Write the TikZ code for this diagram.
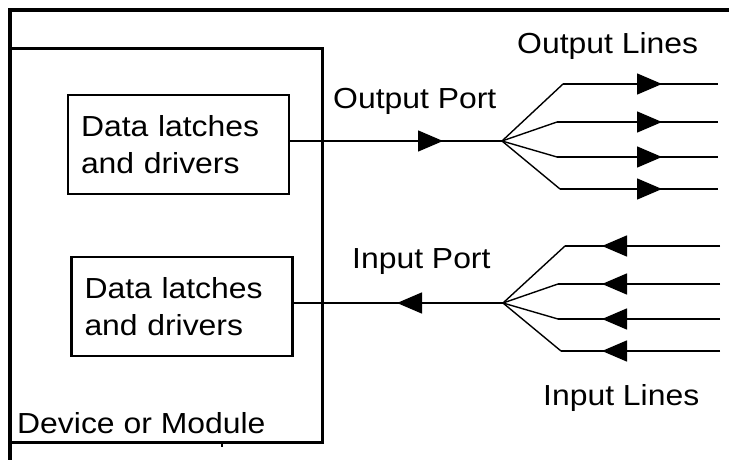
\documentclass[tikz,border=0pt]{standalone}
\usepackage{fontspec}
\setmainfont{Liberation Sans}[FakeStretch=1.1]
\usetikzlibrary{arrows.meta, decorations.markings, positioning}
\tikzset{
	framebox/.style={
			line width=3.5pt,
			line cap=rect
		},
	devicebox/.style={
			line width=3pt
		},
	databox/.style={
			draw=black,
			line width=2.6pt,
			minimum width=221pt,
			minimum height=99pt,
			text width=195pt,
			inner xsep=13pt,
			inner ysep=0pt,
			align=left,
			font=\fontsize{29}{37}\selectfont
		},
	labelnode/.style={
			anchor=base west,
			inner sep=0pt,
			font=\fontsize{29}{35}\selectfont
		},
	wire/.style={
			line width=1.4pt
		},
	tipat/.style={
			wire,
			decoration={markings,
				mark=at position #1 with {\arrow{Triangle[length=25pt, width=21pt]}}},
			postaction={decorate}
		}
}

\begin{document}
\begin{tikzpicture}[x=1pt, y=-1pt]
\useasboundingbox (0,0) rectangle (729,460);
\draw[framebox] (10,460) -- (10,10) -- (729,10);
\draw[devicebox] (10,49) -- (322,49) -- (322,442) -- (10,442);
\draw[line width=2pt] (222,442) -- (222,447);

\node[databox] (outlatch) at (178.5,144.5) {Data latches\\and drivers};
\node[databox] (inlatch) at (182,306.5) {Data latches\\and drivers};

\coordinate (outfan) at (502,141);
\coordinate (infan) at (503,303);

% output side
\draw[tipat=-59pt] (outlatch.east |- outfan) -- (outfan);
\foreach \i/\bx/\by in {1/563/84, 2/557/122, 3/557/157, 4/560/189} {
	\coordinate (obend\i) at (\bx,\by);
	\coordinate (oend\i) at (718,\by);
	\draw[wire] (outfan) -- (obend\i);
	\draw[tipat=-56pt] (obend\i) -- (oend\i);
}

% input side
\draw[tipat=106pt] (infan) -- (inlatch.east |- infan);
\foreach \i/\bx/\by in {1/565/246, 2/558/284, 3/558/319, 4/561/351} {
	\coordinate (ibend\i) at (\bx,\by);
	\coordinate (iend\i) at (720,\by);
	\draw[wire] (infan) -- (ibend\i);
	\draw[tipat=118pt] (iend\i) -- (ibend\i);
}

\node[labelnode] (outport) at (333,109) {Output Port};
\node[labelnode] (outlines) at (517,54) {Output Lines};
\node[labelnode] (inport) at (352,268) {Input Port};
\node[labelnode] (inlines) at (543,405) {Input Lines};
\node[labelnode] (devname) at (17,433) {Device or Module};
\end{tikzpicture}
\end{document}
